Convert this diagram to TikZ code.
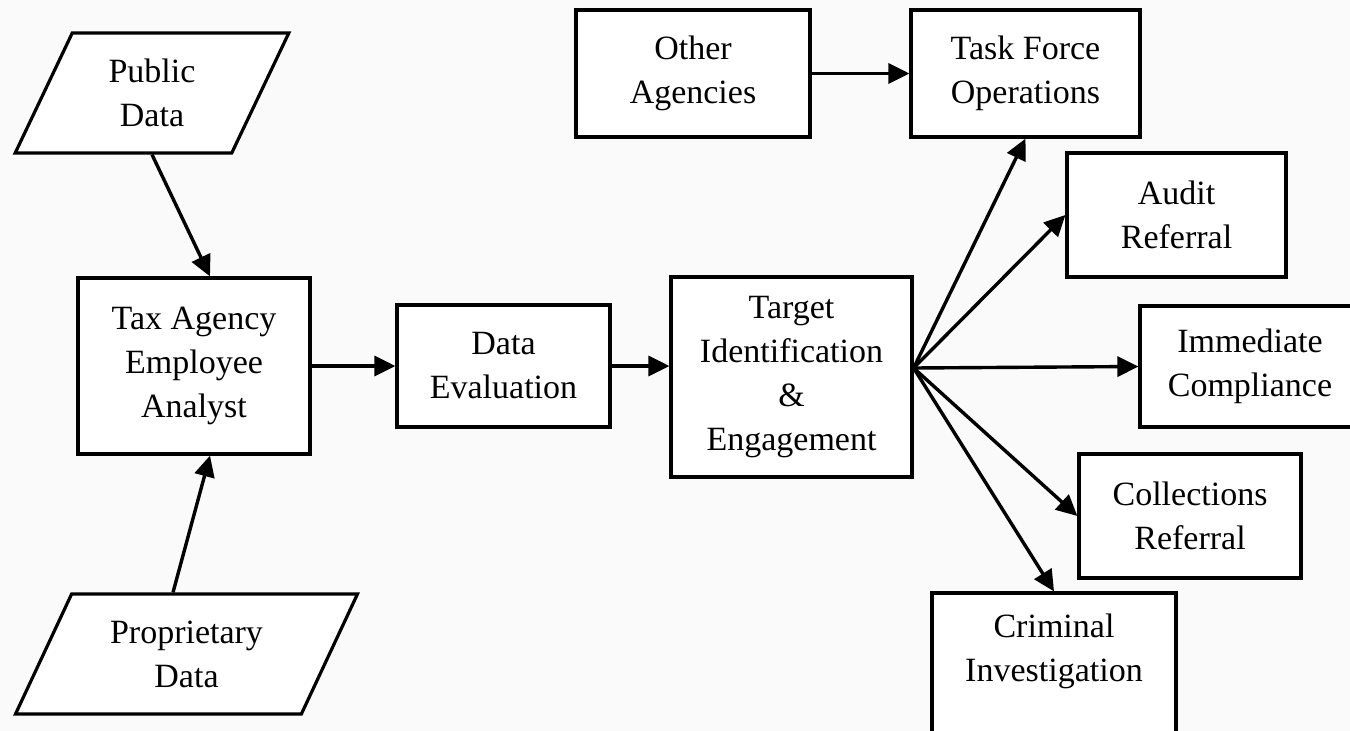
\documentclass[tikz,border=0pt]{standalone}
\usepackage{fontspec}
\setmainfont{Liberation Serif}
\usetikzlibrary{arrows.meta,shapes.geometric}

\begin{document}
\begin{tikzpicture}[x=1pt, y=-1pt,
	box/.style={draw, line width=3.2pt, fill=white, inner sep=0pt, align=center,
		font=\fontsize{34}{44}\selectfont},
	datain/.style={box, trapezium, trapezium stretches=true},
	flow/.style={line width=3.4pt, -{Triangle[length=21pt, width=20pt]}}]
	\clip (0, 0) rectangle (1350, 731);
	\fill[black!2] (0, 0) rectangle (1350, 731);

	% inputs
	\node[datain, minimum width=274pt, minimum height=120pt,
		trapezium left angle=65.4, trapezium right angle=114.6] (pub) at (152, 93) {Public\\Data};
	\node[datain, minimum width=343pt, minimum height=120pt,
		trapezium left angle=60.8, trapezium right angle=119.2] (prop) at (186.5, 654) {Proprietary\\Data};
	\node[box, minimum width=232pt, minimum height=176pt] (tax) at (194, 366) {Tax Agency\\Employee\\Analyst};

	% main line
	\node[box, minimum width=213pt, minimum height=122pt] (dev) at (503.5, 366) {Data\\Evaluation};
	\node[box, minimum width=241pt, minimum height=200pt] (tgt) at (791.5, 377) {Target\\Identification\\\&\\Engagement};

	% outcomes
	\node[box, minimum width=234pt, minimum height=127pt] (oth) at (693, 73.5) {Other\\Agencies};
	\node[box, minimum width=229pt, minimum height=127pt] (tfo) at (1025.5, 73.5) {Task Force\\Operations};
	\node[box, minimum width=219pt, minimum height=124pt] (aud) at (1176.5, 215) {Audit\\Referral};
	\node[box, minimum width=220pt, minimum height=121pt] (imm) at (1250, 366.5) {Immediate\\Compliance};
	\node[box, minimum width=222pt, minimum height=124pt] (col) at (1190, 516) {Collections\\Referral};
	\node[box, minimum width=244pt, minimum height=154pt] (cri) at (1054, 670) {Criminal\\Investigation\\~};

	\draw[flow] (pub.south) -- ([xshift=16pt]tax.north);
	\draw[flow] ([xshift=-13.5pt]prop.north) -- ([xshift=16pt]tax.south);
	\draw[flow] (tax.east) -- (tax.east -| dev.west);
	\draw[flow] (dev.east) -- (dev.east -| tgt.west);
	\draw[flow] (oth.east) -- (tfo.west);

	\coordinate (fan) at ([yshift=9pt]tgt.east);
	\foreach \t/\a in {tfo/south, aud/west, imm/west, col/west, cri/north}
		\draw[flow] (fan) -- (\t.\a);
\end{tikzpicture}
\end{document}
